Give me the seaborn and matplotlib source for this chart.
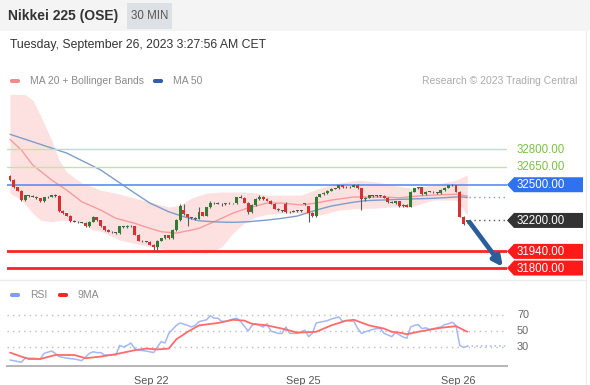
import matplotlib
matplotlib.use("Agg")
import matplotlib.pyplot as plt
from matplotlib.patches import Polygon, FancyBboxPatch, Rectangle
import seaborn as sns

# ---------------- data ----------------
opens = [32570, 32540, 32480, 32450, 32370, 32410, 32405, 32400, 32385, 32360,
         32395, 32400, 32410, 32405, 32280, 32260, 32240, 32195, 32190, 32185,
         32180, 32150, 32190, 32225, 32200, 32150, 32120, 32105, 32100, 32095,
         32150, 32145, 32155, 32150, 32080, 32030, 32025, 32020, 31995, 31975,
         32030, 32050, 32075, 32050, 32120, 32200, 32290, 32250, 32225, 32220,
         32215, 32270, 32240, 32310, 32350, 32345, 32340, 32335, 32345, 32345,
         32345, 32395, 32390, 32350, 32270, 32330, 32380, 32400, 32380, 32365,
         32340, 32300, 32285, 32340, 32270, 32275, 32280, 32280, 32345, 32320,
         32260, 32235, 32400, 32420, 32430, 32450, 32465, 32470, 32495, 32480,
         32485, 32480, 32500, 32470, 32380, 32390, 32410, 32405, 32410, 32405,
         32390, 32355, 32350, 32360, 32320, 32330, 32315, 32440, 32470, 32480,
         32420, 32440, 32440, 32435, 32430, 32455, 32475, 32495, 32495, 32440,
         32230, 32185]
highs = [32580, 32545, 32485, 32455, 32415, 32415, 32412, 32405, 32390, 32400,
         32405, 32415, 32418, 32410, 32285, 32265, 32245, 32200, 32196, 32190,
         32185, 32195, 32240, 32230, 32205, 32155, 32125, 32110, 32105, 32155,
         32155, 32160, 32160, 32155, 32085, 32035, 32030, 32025, 32000, 32035,
         32055, 32080, 32080, 32125, 32210, 32340, 32335, 32255, 32230, 32225,
         32310, 32275, 32315, 32360, 32355, 32352, 32348, 32350, 32352, 32350,
         32400, 32410, 32395, 32355, 32335, 32385, 32415, 32405, 32385, 32370,
         32345, 32305, 32290, 32355, 32280, 32285, 32285, 32288, 32350, 32325,
         32270, 32405, 32425, 32435, 32455, 32470, 32475, 32500, 32500, 32490,
         32490, 32510, 32505, 32475, 32395, 32415, 32415, 32415, 32415, 32410,
         32395, 32360, 32365, 32365, 32335, 32335, 32445, 32475, 32485, 32485,
         32445, 32448, 32445, 32440, 32460, 32480, 32500, 32505, 32500, 32445,
         32235, 32205]
lows = [32535, 32475, 32445, 32365, 32365, 32398, 32395, 32380, 32355, 32355,
        32390, 32395, 32398, 32275, 32255, 32235, 32190, 32185, 32180, 32175,
        32145, 32145, 32185, 32195, 32145, 32115, 32100, 32095, 32090, 32090,
        32140, 32140, 32145, 32075, 32025, 32020, 32015, 31990, 31950, 31955,
        32025, 32045, 32045, 32045, 32115, 32195, 32245, 32150, 32210, 32205,
        32210, 32235, 32235, 32305, 32338, 32335, 32325, 32330, 32338, 32338,
        32340, 32385, 32345, 32255, 32265, 32325, 32375, 32375, 32360, 32335,
        32295, 32280, 32275, 32265, 32265, 32270, 32272, 32272, 32330, 32190,
        32230, 32230, 32395, 32415, 32425, 32445, 32460, 32465, 32475, 32475,
        32475, 32478, 32465, 32290, 32365, 32385, 32400, 32400, 32400, 32385,
        32350, 32345, 32340, 32315, 32315, 32310, 32310, 32435, 32465, 32415,
        32415, 32435, 32430, 32425, 32425, 32450, 32470, 32488, 32435, 32225,
        32160, 32180]
closes = [32540, 32480, 32450, 32370, 32410, 32405, 32400, 32385, 32360, 32395,
          32400, 32410, 32405, 32280, 32260, 32240, 32195, 32190, 32185, 32180,
          32150, 32190, 32225, 32200, 32150, 32120, 32105, 32100, 32095, 32150,
          32145, 32155, 32150, 32080, 32030, 32025, 32020, 31995, 31975, 32030,
          32050, 32075, 32050, 32120, 32200, 32320, 32250, 32225, 32220, 32215,
          32270, 32240, 32310, 32350, 32345, 32340, 32335, 32345, 32345, 32345,
          32395, 32390, 32350, 32270, 32330, 32380, 32400, 32380, 32365, 32340,
          32300, 32285, 32280, 32270, 32275, 32280, 32280, 32280, 32335, 32260,
          32235, 32400, 32420, 32430, 32450, 32465, 32470, 32495, 32480, 32485,
          32480, 32500, 32470, 32380, 32390, 32410, 32405, 32410, 32405, 32390,
          32355, 32350, 32360, 32320, 32330, 32315, 32440, 32470, 32480, 32420,
          32440, 32440, 32435, 32430, 32455, 32475, 32495, 32495, 32440, 32230,
          32170, 32200]

ma20_bar = [0, 3, 6, 11, 15, 19, 24, 28, 33, 37, 40, 44, 48, 50, 55, 59, 63, 68,
            72, 77, 81, 85, 91, 99, 103, 108, 113, 118, 121]
ma20_val = [32881, 32792, 32666, 32540, 32455, 32357, 32287, 32218, 32176, 32134,
            32105, 32094, 32119, 32134, 32203, 32262, 32305, 32346, 32346, 32330,
            32346, 32371, 32397, 32397, 32390, 32405, 32415, 32420, 32405]

ma50_bar = [0, 6, 15, 24, 33, 37, 42, 46, 50, 55, 59, 63, 68, 72, 76, 81, 85, 90,
            94, 103, 112, 119, 121]
ma50_val = [32924, 32861, 32766, 32624, 32430, 32346, 32273, 32231, 32197, 32187,
            32184, 32189, 32203, 32218, 32237, 32287, 32321, 32349, 32366, 32377,
            32386, 32399, 32393]

band_bar = [0, 3, 6, 8, 11, 13, 15, 19, 22, 24, 29, 35, 42, 45, 48, 52, 56, 59,
            62, 65, 68, 72, 77, 82, 87, 92, 97, 101, 106, 112, 118, 121]
band_upper = [33300, 33280, 33212, 33086, 32876, 32708, 32607, 32514, 32480, 32455,
              32422, 32371, 32313, 32329, 32388, 32430, 32439, 32439, 32439, 32430,
              32413, 32413, 32413, 32472, 32514, 32539, 32523, 32497, 32472, 32497,
              32539, 32582]
band_lower = [32430, 32371, 32262, 32203, 32187, 32203, 32200, 32178, 32119, 32110,
              32035, 31993, 31951, 31940, 31934, 31926, 31976, 32094, 32178, 32229,
              32250, 32262, 32262, 32245, 32287, 32300, 32304, 32313, 32313, 32371,
              32371, 32245]

rsi_bar = [0, 3, 4, 6, 8, 9, 11, 12, 13, 15, 17, 19, 21, 22, 23, 24, 25, 26, 28,
           29, 30, 31, 32, 33, 34, 36, 38, 39, 40, 41, 42, 44, 45, 47, 48, 49, 50,
           52, 53, 54, 55, 56, 57, 59, 60, 61, 63, 64, 65, 67, 68, 69, 71, 72, 73,
           74, 76, 77, 78, 79, 80, 81, 82, 84, 85, 87, 88, 89, 91, 92, 93, 94, 96,
           97, 98, 99, 100, 101, 102, 104, 105, 106, 107, 108, 109, 110, 111, 112,
           114, 115, 116, 117, 118, 119, 120, 121]
rsi_val = [13.7, 11, 16, 16, 15, 22, 25, 22, 18, 16, 15, 13, 22, 24, 23, 23, 20, 20,
           20, 32, 30, 32, 35, 28, 26, 25, 23, 30, 36.7, 35, 47, 57, 60, 57, 55, 57,
           61.7, 64, 69, 66, 66, 62, 62, 65, 66, 62, 50, 57, 59, 55, 59, 50, 47, 47,
           55, 47, 47, 49, 51, 43, 47, 60, 61, 63, 65, 67.5, 62, 63, 62, 53, 47, 49,
           52, 53, 53, 47, 45, 43, 48, 42.5, 41, 55, 57, 58, 53, 54, 52, 53, 55, 58,
           59, 61, 57, 32, 29.5, 31]

rsi_ma_bar = [0, 3, 5, 8, 12, 17, 20, 24, 28, 33, 36, 39, 42, 44, 47, 50, 55, 59,
              62, 64, 68, 72, 76, 81, 85, 89, 91, 95, 99, 101, 103, 105, 108, 114,
              118, 121]
rsi_ma_val = [23, 18, 15, 15, 20, 20, 16, 18, 21, 26, 28, 27, 28, 39.6, 49, 57, 60,
              64, 63, 59, 57, 53, 48, 49, 57, 63, 64, 57, 53, 49, 48, 46, 49, 54,
              56, 49]

resistances = [32800, 32650]
pivot = 32500
last_price = 32200
supports = [31940, 31800]
date_bar = [37.5, 77.5, 118.5]
date_labels = ["Sep 22", "Sep 25", "Sep 26"]
rsi_ticks = [30, 50, 70]

# ---------------- figure ----------------
sns.set_theme(style="white")
plt.rcParams['font.family'] = ['Liberation Sans', 'DejaVu Sans']

W, H = 590, 385
fig = plt.figure(figsize=(W / 100, H / 100), dpi=100)
fig.patch.set_facecolor('white')


def px_rect(x0, y0, x1, y1):
    return [x0 / W, 1 - y1 / H, (x1 - x0) / W, (y1 - y0) / H]


XMIN, XMAX = -0.8, 131.5
ax = fig.add_axes(px_rect(7, 95, 507, 279))
ax.set_facecolor('none')
for s in ax.spines.values():
    s.set_visible(False)
ax.set_xlim(XMIN, XMAX)
ax.set_ylim(31708, 33254)
ax.set_xticks([])
ax.set_yticks([])

# Bollinger band
ax.fill_between(band_bar, band_lower, band_upper, color='#fde1e1', lw=0, zorder=1)
# MA lines
sns.lineplot(x=ma20_bar, y=ma20_val, ax=ax, color='#f59c9c', lw=1.0, zorder=2, sort=False)
sns.lineplot(x=ma50_bar, y=ma50_val, ax=ax, color='#7d9dcb', lw=1.0, zorder=2, sort=False)

# level lines
for lv in resistances:
    ax.axhline(lv, color='#c3e2aa', lw=1.0, zorder=2)
ax.axhline(pivot, color='#5b8ef4', lw=1.2, zorder=2)
for lv in supports:
    ax.axhline(lv, color='#ff2323', lw=2.0, zorder=2)

# candles
idx = list(range(len(closes)))
up = [c >= o for o, c in zip(opens, closes)]
ax.vlines(idx, lows, highs, color='#5a5a5a', lw=0.8, zorder=3)
bottoms = [min(o, c) for o, c in zip(opens, closes)]
heights = [max(abs(c - o), 5) for o, c in zip(opens, closes)]
cols = ['#2e7d32' if u else '#d83030' for u in up]
for i, (o, c) in enumerate(zip(opens, closes)):
    if abs(c - o) < 6:
        cols[i] = '#555555'
ax.bar(idx, heights, bottom=bottoms, width=0.78, color=cols, lw=0, zorder=4)

# continuation dotted lines
last_x = idx[-1] + 0.5
ax.plot([last_x, XMAX], [ma50_val[-1], ma50_val[-1]], ls=(0, (1, 2.5)), color='#7d9dcb', lw=1.0, zorder=2)
ax.plot([last_x, XMAX], [last_price, last_price], ls=(0, (1, 2.5)), color='#555555', lw=1.0, zorder=2)

# arrow
ax.annotate('', xy=(130.4, supports[1] + 10), xytext=(idx[-1] + 0.6, last_price - 15),
            arrowprops=dict(arrowstyle='-|>', color='#2c5d9b', lw=3.4, mutation_scale=14,
                            shrinkA=0, shrinkB=0),
            annotation_clip=False, zorder=6)

# ---------------- RSI panel ----------------
rax = fig.add_axes(px_rect(7, 300, 507, 366))
rax.set_facecolor('none')
rax.set_xlim(XMIN, XMAX)
rax.set_ylim(6.25, 88.75)
for k in ['top', 'left', 'right']:
    rax.spines[k].set_visible(False)
rax.spines['bottom'].set_color('#b4b4b4')
rax.spines['bottom'].set_linewidth(1.4)
rax.set_yticks([])
for t in rsi_ticks:
    rax.axhline(t, color='#bdbdbd', lw=1.0, ls=(0, (1, 3)), zorder=1)
sns.lineplot(x=rsi_bar, y=rsi_val, ax=rax, color='#a3b9f2', lw=1.1, zorder=3, sort=False)
sns.lineplot(x=rsi_ma_bar, y=rsi_ma_val, ax=rax, color='#ff6b6b', lw=1.3, zorder=4, sort=False)
rax.plot([rsi_bar[-1], XMAX], [rsi_val[-1], rsi_val[-1]], ls=(0, (1, 2)), color='#a3b9f2', lw=1.1)
rax.set_xticks(date_bar)
rax.set_xticklabels(date_labels)
rax.tick_params(axis='x', which='major', length=0, pad=7, labelsize=7.8, labelcolor='#555555')
rax.set_xticks([XMIN + 0.1, XMAX - 0.1], minor=True)
rax.tick_params(axis='x', which='minor', length=5, width=1.3, color='#b4b4b4', direction='out')
rax.set_xlabel('')
rax.set_ylabel('')
ax.set_xlabel('')
ax.set_ylabel('')

# ---------------- overlay (header, legends, tags) ----------------
ov = fig.add_axes([0, 0, 1, 1], zorder=10)
ov.set_xlim(0, W)
ov.set_ylim(H, 0)
ov.axis('off')
ov.patch.set_visible(False)

ov.add_patch(Rectangle((0, 0), W, 31, fc='#f4f4f4', ec='none', zorder=0))
ov.add_patch(Rectangle((127, 3), 45, 26, fc='#dde0e5', ec='none', zorder=1))
ov.text(8, 16, 'Nikkei 225 (OSE)', fontsize=10, weight='bold', color='#333333', va='center', ha='left')
ov.text(149.5, 16, '30 MIN', fontsize=8.3, color='#555555', va='center', ha='center')
ov.text(10, 45, 'Tuesday, September 26, 2023 3:27:56 AM CET', fontsize=8.8, color='#333333',
        va='center', ha='left')

ov.plot([0, 586], [280, 280], color='#ececec', lw=1)
ov.plot([586, 586], [31, H], color='#ececec', lw=1)


def legend_item(x, y, color, label):
    ov.add_patch(FancyBboxPatch((x, y - 2), 10, 4, boxstyle='round,pad=0,rounding_size=1.8',
                                fc=color, ec='none'))
    ov.text(x + 20, y, label, fontsize=7.5, color='#8a8a8a', va='center', ha='left')


legend_item(10, 81, '#f28a8a', 'MA 20 + Bollinger Bands')
legend_item(153, 81, '#2f5fa6', 'MA 50')
ov.text(577, 81, 'Research © 2023 Trading Central', fontsize=7.5, color='#ababab', va='center', ha='right')
legend_item(10, 295, '#7f9ef0', 'RSI')
legend_item(58, 295, '#ff2424', '9MA')


def ypx(axis, v):
    return H - axis.transData.transform((0, v))[1]


def tag(p, text, bg, fg='white'):
    y = ypx(ax, p)
    if bg is not None:
        ov.add_patch(Polygon([(507, y), (514, y - 7.5), (583, y - 7.5), (583, y + 7.5), (514, y + 7.5)],
                             closed=True, fc=bg, ec='none'))
    ov.text(517, y + 0.5, text, fontsize=8.3, color=fg, va='center', ha='left')


for lv in resistances:
    tag(lv, f'{lv:.2f}', None, fg='#7cc043')
tag(pivot, f'{pivot:.2f}', '#2f72f0')
tag(last_price, f'{last_price:.2f}', '#333333')
for lv in supports:
    tag(lv, f'{lv:.2f}', '#ff1a1a')

for t in rsi_ticks:
    ov.text(517, ypx(rax, t), str(t), fontsize=7.8, color='#666666', va='center', ha='left')

fig.savefig('out.png', dpi=100)
